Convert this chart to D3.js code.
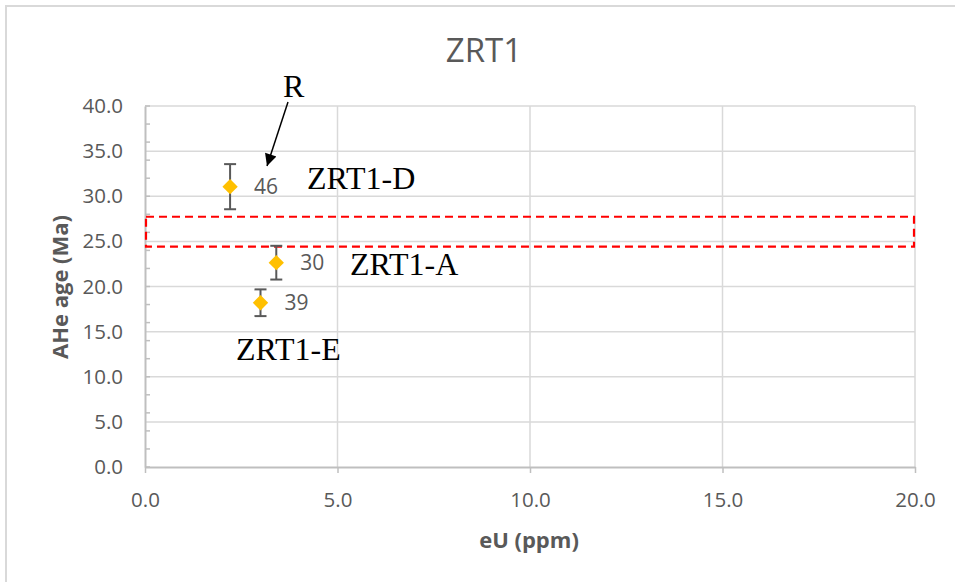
<!DOCTYPE html>
<html><head><meta charset="utf-8">
<script src="https://cdn.jsdelivr.net/npm/d3@7"></script>
<style>body{margin:0;background:#fff}svg{display:block}</style>
</head><body><svg id="c" width="955" height="582"></svg>
<script>
// data
const samples = ["ZRT1-D", "ZRT1-A", "ZRT1-E"];
const eU = [2.21, 3.41, 3.0];
const age = [31.06, 22.64, 18.2];
const ageErr = [2.5, 1.87, 1.48];
const pointLabels = ["46", "30", "39"];
const xTicks = [0, 5, 10, 15, 20];
const yTicks = [0, 5, 10, 15, 20, 25, 30, 35, 40];
const yMinorTicks = d3.range(0, 41, 2);
const band = [24.41, 27.73];
const title = "ZRT1";
const xTitle = "eU (ppm)";
const yTitle = "AHe age (Ma)";

const svg = d3.select("#c");
const x = d3.scaleLinear().domain([0, 20]).range([145, 915]);
const y = d3.scaleLinear().domain([0, 40]).range([467, 106]);
const gray = "#595959";

// chart border
svg.append("rect").attr("x", 6).attr("y", 6).attr("width", 990).attr("height", 620)
  .attr("fill", "none").attr("stroke", "#d9d9d9").attr("stroke-width", 2);

// gridlines
svg.append("g").selectAll("line").data(yTicks.filter(d => d > 0)).join("line")
  .attr("x1", x(0)).attr("x2", x(20)).attr("y1", d => y(d)).attr("y2", d => y(d))
  .attr("stroke", "#d9d9d9").attr("stroke-width", 1.5);
svg.append("g").selectAll("line").data(xTicks.filter(d => d > 0)).join("line")
  .attr("x1", d => x(d)).attr("x2", d => x(d)).attr("y1", y(0)).attr("y2", y(40))
  .attr("stroke", "#d9d9d9").attr("stroke-width", 1.5);

// y axis
const yAxis = svg.append("g").attr("transform", `translate(${x(0)},0)`)
  .call(d3.axisLeft(y).tickValues(yTicks).tickFormat(d3.format(".1f")).tickSize(0).tickPadding(22));
yAxis.select(".domain").attr("stroke", "#bfbfbf").attr("stroke-width", 2);
yAxis.selectAll("text").attr("fill", gray).style("font-family", "Open Sans").style("font-size", "20.5px");
svg.append("g").selectAll("line").data(yMinorTicks).join("line")
  .attr("x1", x(0)).attr("x2", x(0) + 5).attr("y1", d => y(d)).attr("y2", d => y(d))
  .attr("stroke", "#bfbfbf").attr("stroke-width", 1.5);

// x axis
const xAxis = svg.append("g").attr("transform", `translate(0,${y(0)})`)
  .call(d3.axisBottom(x).tickValues(xTicks).tickFormat(d3.format(".1f")).tickSize(6).tickSizeOuter(0).tickPadding(19));
xAxis.select(".domain").attr("stroke", "#bfbfbf").attr("stroke-width", 2);
xAxis.selectAll(".tick line").attr("stroke", "#bfbfbf").attr("stroke-width", 1.5);
xAxis.selectAll("text").attr("fill", gray).style("font-family", "Open Sans").style("font-size", "20.5px");

// band
svg.append("rect").attr("x", x(0) + 1).attr("y", y(band[1])).attr("width", x(20) - x(0) - 2)
  .attr("height", y(band[0]) - y(band[1]))
  .attr("fill", "none").attr("stroke", "#ff0000").attr("stroke-width", 2.2).attr("stroke-dasharray", "8,5");

// error bars
const pts = samples.map((s, i) => ({s, x: eU[i], y: age[i], e: ageErr[i], l: pointLabels[i]}));
const eg = svg.append("g").attr("stroke", gray).attr("stroke-width", 2);
eg.selectAll(".v").data(pts).join("line")
  .attr("x1", d => x(d.x)).attr("x2", d => x(d.x)).attr("y1", d => y(d.y + d.e)).attr("y2", d => y(d.y - d.e));
eg.selectAll(".t").data(pts).join("line")
  .attr("x1", d => x(d.x) - 6).attr("x2", d => x(d.x) + 6).attr("y1", d => y(d.y + d.e)).attr("y2", d => y(d.y + d.e));
eg.selectAll(".b").data(pts).join("line")
  .attr("x1", d => x(d.x) - 6).attr("x2", d => x(d.x) + 6).attr("y1", d => y(d.y - d.e)).attr("y2", d => y(d.y - d.e));

// diamonds
svg.append("g").selectAll("path").data(pts).join("path")
  .attr("d", d3.symbol().type(d3.symbolDiamond2).size(150))
  .attr("transform", d => `translate(${x(d.x)},${y(d.y)})`)
  .attr("fill", "#ffc000");

// data labels
svg.append("g").selectAll("text").data(pts).join("text")
  .attr("x", d => x(d.x) + 24).attr("y", d => y(d.y)).attr("dy", "0.36em")
  .attr("fill", gray).style("font-family", "Open Sans").style("font-size", "21px")
  .text(d => d.l);

// title
svg.append("text").attr("x", 484).attr("y", 62).attr("text-anchor", "middle")
  .attr("fill", gray).style("font-family", "Open Sans").style("font-size", "33px").text(title);

// axis titles
svg.append("text").attr("x", 529).attr("y", 548).attr("text-anchor", "middle")
  .attr("fill", gray).style("font-family", "Open Sans").style("font-weight", "bold").style("font-size", "22px").text(xTitle);
svg.append("text").attr("transform", "translate(68,287) rotate(-90)").attr("text-anchor", "middle")
  .attr("fill", gray).style("font-family", "Open Sans").style("font-weight", "bold").style("font-size", "22px").text(yTitle);

// annotations
const ann = [
  {t: "ZRT1-D", x: 307, y: 189},
  {t: "ZRT1-A", x: 350, y: 275},
  {t: "ZRT1-E", x: 236, y: 360},
  {t: "R", x: 283, y: 97}
];
svg.append("g").selectAll("text").data(ann).join("text")
  .attr("x", d => d.x).attr("y", d => d.y).attr("fill", "#000")
  .style("font-family", "Liberation Serif").style("font-size", "32px").text(d => d.t);

// arrow
svg.append("defs").append("marker").attr("id", "ah").attr("viewBox", "0 0 10 10")
  .attr("refX", 10).attr("refY", 5).attr("markerWidth", 16).attr("markerHeight", 12)
  .attr("markerUnits", "userSpaceOnUse").attr("orient", "auto")
  .append("path").attr("d", "M0,0 L10,5 L0,10 Z").attr("fill", "#000");
svg.append("line").attr("x1", 288).attr("y1", 102).attr("x2", 267).attr("y2", 166)
  .attr("stroke", "#000").attr("stroke-width", 1.5).attr("marker-end", "url(#ah)");
</script></body></html>
